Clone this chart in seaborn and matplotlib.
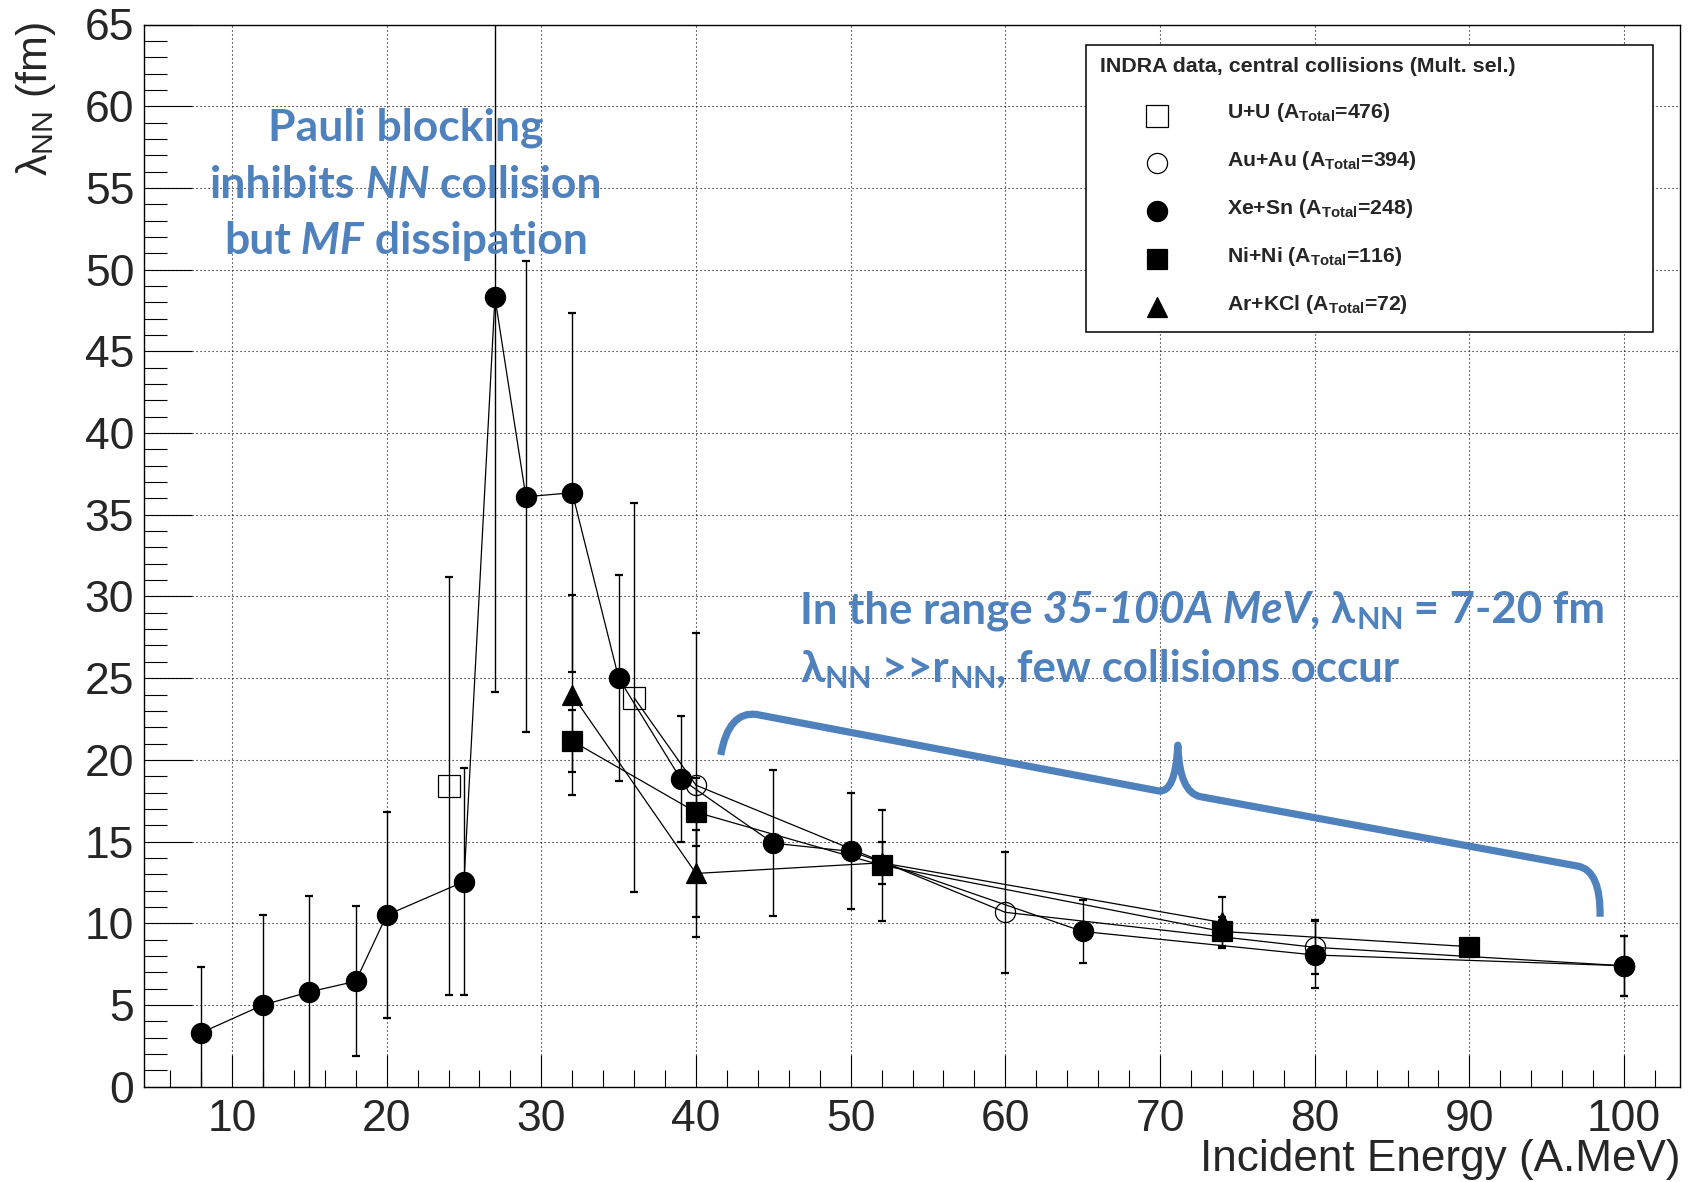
import matplotlib
matplotlib.use("Agg")
import matplotlib.pyplot as plt
import seaborn as sns
from matplotlib.path import Path
from matplotlib.patches import PathPatch, Rectangle
from matplotlib.lines import Line2D
from matplotlib.offsetbox import TextArea, HPacker, AnnotationBbox
from matplotlib.ticker import MultipleLocator

# ---------------- data: mean free path vs incident energy ----------------
uu_energy = [24, 36]
uu_lambda = [18.4, 23.8]
uu_err = [12.8, 11.9]

auau_energy = [40, 60, 80, 100]
auau_lambda = [18.45, 10.67, 8.53, 7.4]
auau_err = [9.3, 3.7, 1.66, 1.85]

xesn_energy = [8, 12, 15, 18, 20, 25, 27, 29, 32, 35, 39, 45, 50, 65, 80, 100]
xesn_lambda = [3.3, 5.0, 5.8, 6.45, 10.5, 12.55, 48.3, 36.1, 36.35, 25.0,
               18.85, 14.9, 14.4, 9.5, 8.06, 7.4]
xesn_err = [4.0, 5.5, 5.85, 4.6, 6.3, 6.95, 24.15, 14.4, 11.0, 6.3,
            3.85, 4.45, 3.55, 1.9, 2.05, 1.85]

nini_energy = [32, 40, 52, 74, 90]
nini_lambda = [21.15, 16.8, 13.55, 9.5, 8.57]
nini_err = [1.9, 2.07, 3.4, 0.9, 0.4]

arkcl_energy = [32, 40, 52, 74]
arkcl_lambda = [23.97, 13.05, 13.7, 10.05]
arkcl_err = [6.1, 2.65, 1.3, 1.55]

systems = ["U+U", "Au+Au", "Xe+Sn", "Ni+Ni", "Ar+KCl"]
a_total = [476, 394, 248, 116, 72]
legend_title = "INDRA data, central collisions (Mult. sel.)"

BLUE = "#4F81BD"
W, H = 1689, 1182

sns.set_style("ticks")
plt.rcParams["font.family"] = ["Liberation Sans", "DejaVu Sans"]
plt.rcParams["mathtext.default"] = "regular"

fig = plt.figure(figsize=(W / 100, H / 100), dpi=100)
ax = fig.add_axes([144 / W, 1 - 1086.7 / H, (1680.5 - 144) / W, (1086.7 - 24.5) / H])


def fx(px):
    return px / W


def fy(py):
    return 1 - py / H


# (energy, lambda, error, marker, size, filled, draw line)
series = [
    (uu_energy, uu_lambda, uu_err, "s", 15.5, False, False),
    (auau_energy, auau_lambda, auau_err, "o", 14.5, False, True),
    (xesn_energy, xesn_lambda, xesn_err, "o", 14.5, True, True),
    (nini_energy, nini_lambda, nini_err, "s", 15.0, True, True),
    (arkcl_energy, arkcl_lambda, arkcl_err, "^", 14.0, True, True),
]

for e, lam, err, mk, ms, filled, joined in series:
    ax.errorbar(e, lam, yerr=err, fmt="none", ecolor="black", elinewidth=1.0,
                capsize=2.6, capthick=1.6, zorder=2)
    sns.lineplot(x=e, y=lam, ax=ax, color="black",
                 linewidth=0.9 if joined else 0, marker=mk, markersize=ms,
                 markerfacecolor="black" if filled else "none",
                 markeredgecolor="black", markeredgewidth=0.9,
                 estimator=None, errorbar=None, sort=True, zorder=3)

# the heavy-system curve continues from the last U+U point into Au+Au
sns.lineplot(x=[uu_energy[-1], auau_energy[0]], y=[uu_lambda[-1], auau_lambda[0]],
             ax=ax, color="black", linewidth=0.9, estimator=None, errorbar=None,
             zorder=3)

ax.set_xlim(4.31, 103.65)
ax.set_ylim(0, 65)
ax.set_xlabel("")
ax.set_ylabel("")
ax.xaxis.set_major_locator(MultipleLocator(10))
ax.xaxis.set_minor_locator(MultipleLocator(2))
ax.yaxis.set_major_locator(MultipleLocator(5))
ax.yaxis.set_minor_locator(MultipleLocator(1))
ax.tick_params(axis="both", which="both", direction="in", top=False, right=False,
               width=0.8, color="black")
ax.tick_params(axis="y", which="major", length=34.6, labelsize=32, pad=7)
ax.tick_params(axis="y", which="minor", length=16.6)
ax.tick_params(axis="x", which="major", length=23, labelsize=32, pad=9)
ax.tick_params(axis="x", which="minor", length=12)
ax.grid(which="major", color="black", linestyle=(0, (1, 2.6)), linewidth=0.8)
ax.set_axisbelow(True)
for sp in ax.spines.values():
    sp.set_visible(True)
    sp.set_linewidth(1.0)
    sp.set_color("black")

fig.text(fx(1680), fy(1171), "Incident Energy (A.MeV)", ha="right", va="baseline",
         fontsize=31.8)
fig.text(fx(36), fy(22), r"λ$_{\mathregular{NN}}$ (fm)", rotation=90,
         ha="center", va="top", fontsize=31)

# ---------------- legend box ----------------
fig.add_artist(Rectangle((fx(1086), fy(332)), 567 / W, 287 / H,
                         transform=fig.transFigure, facecolor="white",
                         edgecolor="black", linewidth=1.1, zorder=5))
fig.text(fx(1100), fy(72), legend_title, fontsize=15.4, fontweight="bold",
         ha="left", va="baseline", zorder=6)
rows = [116, 163, 211, 259, 307]
for (e, lam, err, mk, ms, filled, joined), name, at, ry in zip(series, systems, a_total, rows):
    fig.add_artist(Line2D([fx(1156.7)], [fy(ry)], transform=fig.transFigure,
                          marker=mk, markersize=ms, linestyle="none",
                          markerfacecolor="black" if filled else "none",
                          markeredgecolor="black", markeredgewidth=0.9, zorder=6))
    fig.text(fx(1227), fy(ry + 2.5),
             name + r" (A$_{\mathregular{Total}}$=" + str(at) + ")",
             fontsize=15.3, fontweight="bold", ha="left", va="baseline", zorder=6)


# ---------------- blue annotations ----------------
def rich_line(parts, x_px, y_px, halign, size):
    areas = []
    for txt, style in parts:
        props = dict(color=BLUE, fontsize=size, fontweight="bold",
                     family=["Lato", "DejaVu Sans"], fontstyle=style)
        areas.append(TextArea(txt, textprops=props))
    box = HPacker(children=areas, align="baseline", pad=0, sep=0)
    ab = AnnotationBbox(box, (x_px, H - y_px), xycoords="figure pixels",
                        box_alignment=(halign, 0), frameon=False, pad=0,
                        zorder=8)
    fig.add_artist(ab)


SUB = r"$_{\mathregular{NN}}$"
pauli_size = 32
rich_line([("Pauli blocking", "normal")], 406, 148, 0.5, pauli_size)
rich_line([("inhibits", "normal"), (" NN", "italic"), (" collision", "normal")],
          406, 205, 0.5, pauli_size)
rich_line([("but", "normal"), (" MF", "italic"), (" dissipation", "normal")],
          406, 261, 0.5, pauli_size)

range_size = 31.5
rich_line([("In the range", "normal"), (" 35-100A MeV", "italic"), (", λ", "normal"),
           (SUB, "normal"), (" = 7-20 fm", "normal")], 800, 632, 0, range_size)
rich_line([("λ", "normal"), (SUB, "normal"), (" >>r", "normal"), (SUB, "normal"),
           (", few collisions occur", "normal")], 800, 691, 0, range_size)

# curly brace spanning the 40-100 A.MeV region
brace_verts = [(41.6, 20.3), (42.1, 23.0), (43.9, 22.78), (69.9, 18.1),
               (71.0, 17.95), (71.15, 20.9), (71.25, 18.0), (72.6, 17.75),
               (97.0, 13.5), (98.5, 13.25), (98.45, 10.4)]
brace_codes = [Path.MOVETO, Path.CURVE3, Path.CURVE3, Path.LINETO,
               Path.CURVE3, Path.CURVE3, Path.CURVE3, Path.CURVE3,
               Path.LINETO, Path.CURVE3, Path.CURVE3]
ax.add_patch(PathPatch(Path(brace_verts, brace_codes), facecolor="none",
                       edgecolor=BLUE, linewidth=5.2, capstyle="butt",
                       joinstyle="round", zorder=7, clip_on=False))

fig.savefig("out.png", dpi=100, facecolor="white")
